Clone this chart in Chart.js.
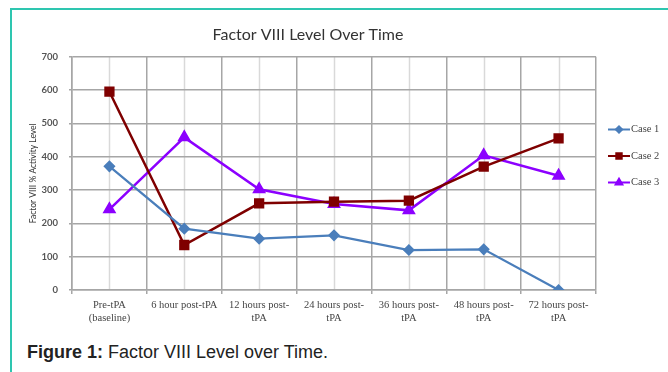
<!DOCTYPE html>
<html>
<head>
<meta charset="utf-8">
<script src="https://cdn.jsdelivr.net/npm/chart.js@4.4.1/dist/chart.umd.min.js"></script>
<style>
  body { margin: 0; width: 668px; height: 372px; overflow: hidden; background: #fff; position: relative; }
  .frame { position: absolute; left: 10px; top: 8px; right: 0; bottom: 0;
    border-top: 2px solid #2ec6b0; border-left: 2px solid #2ec6b0; }
  #myChart { position: absolute; left: 0; top: 0; }
  .caption { position: absolute; left: 27px; top: 342px; font-family: "Liberation Sans", Arial, sans-serif;
    font-size: 18px; color: #222; white-space: nowrap; }
  .caption b { font-weight: bold; }
</style>
</head>
<body>
<div class="frame"></div>
<canvas id="myChart" width="668" height="330"></canvas>
<div class="caption"><b>Figure 1:</b> Factor VIII Level over Time.</div>
<script>
const categories = [
  ["Pre-tPA", "(baseline)"],
  "6 hour post-tPA",
  ["12 hours post-", "tPA"],
  ["24 hours post-", "tPA"],
  ["36 hours post-", "tPA"],
  ["48 hours post-", "tPA"],
  ["72 hours post-", "tPA"],
];
const seriesNames = ["Case 1", "Case 2", "Case 3"];
const case1 = [371, 184, 154, 164, 120, 122, 0];
const case2 = [595, 135, 260, 265, 268, 370, 455];
const case3 = [242, 458, 302, 258, 239, 404, 343];
const yTicks = [0, 100, 200, 300, 400, 500, 600, 700];

const serifFont = "'Liberation Serif', 'DejaVu Serif', serif";

// lighter grid lines through each category centre
const centerLines = {
  id: "centerLines",
  beforeDraw(chart) {
    const { ctx, chartArea, scales } = chart;
    ctx.save();
    ctx.strokeStyle = "#d9d9d9";
    ctx.lineWidth = 1.5;
    categories.forEach((c, i) => {
      const x = Math.round(scales.x.getPixelForValue(i)) + 0.5;
      ctx.beginPath();
      ctx.moveTo(x, chartArea.top);
      ctx.lineTo(x, chartArea.bottom);
      ctx.stroke();
    });
    ctx.restore();
  },
};

// legend: line with marker, like the spreadsheet one
const lineLegend = {
  id: "lineLegend",
  afterDraw(chart) {
    const { ctx, chartArea } = chart;
    const x0 = chartArea.right + 12;
    chart.data.datasets.forEach((ds, i) => {
      const y = 129.5 + i * 26.5;
      ctx.save();
      ctx.strokeStyle = ds.borderColor;
      ctx.lineWidth = 2;
      ctx.beginPath();
      ctx.moveTo(x0, y);
      ctx.lineTo(x0 + 22, y);
      ctx.stroke();
      ctx.fillStyle = ds.pointBackgroundColor;
      ctx.strokeStyle = ds.pointBorderColor;
      Chart.helpers.drawPoint(ctx, {
        pointStyle: ds.pointStyle,
        radius: ds.pointRadius * 0.7,
        rotation: 0,
        borderWidth: 1,
      }, x0 + 11, y);
      ctx.fillStyle = "#444";
      ctx.font = "10.5px " + serifFont;
      ctx.textBaseline = "middle";
      ctx.textAlign = "left";
      ctx.fillText(ds.label, x0 + 23, y);
      ctx.restore();
    });
  },
};

const ctx = document.getElementById("myChart");
new Chart(ctx, {
  type: "line",
  data: {
    labels: categories,
    datasets: [
      {
        label: seriesNames[0],
        data: case1,
        borderColor: "#4a7ebb",
        borderWidth: 2.25,
        pointStyle: "rectRot",
        pointRadius: 4.5,
        pointBackgroundColor: "#4a7ebb",
        pointBorderColor: "#4a7ebb",
      },
      {
        label: seriesNames[1],
        data: case2,
        borderColor: "#7f0000",
        borderWidth: 2.5,
        pointStyle: "rect",
        pointRadius: 5.5,
        pointBackgroundColor: "#7f0000",
        pointBorderColor: "#7f0000",
      },
      {
        label: seriesNames[2],
        data: case3,
        borderColor: "#8c00ff",
        borderWidth: 2.5,
        pointStyle: "triangle",
        pointRadius: 5.5,
        pointBackgroundColor: "#8c00ff",
        pointBorderColor: "#8c00ff",
      },
    ],
  },
  options: {
    responsive: false,
    animation: false,
    devicePixelRatio: 1,
    layout: { padding: { left: 20, right: 72, top: 0, bottom: 0 } },
    plugins: {
      legend: { display: false },
      tooltip: { enabled: false },
      title: {
        display: true,
        text: "Factor VIII Level Over Time",
        color: "#333",
        font: { family: "Lato, 'Open Sans', sans-serif", size: 16, weight: "normal" },
        padding: { top: 25, bottom: 12.5 },
      },
    },
    scales: {
      x: {
        offset: true,
        grid: { offset: true, color: "#a6a6a6", lineWidth: 1.5, tickLength: 4 },
        border: { color: "#a6a6a6", width: 1.5 },
        ticks: {
          color: "#444",
          font: { family: serifFont, size: 10.5 },
          padding: 5,
          maxRotation: 0,
          autoSkip: false,
        },
        afterFit(scale) { scale.height = 40; },
      },
      y: {
        min: 0,
        max: 700,
        afterBuildTicks(scale) { scale.ticks = yTicks.map((v) => ({ value: v })); },
        grid: { color: "#a6a6a6", lineWidth: 1.5, tickLength: 3 },
        border: { color: "#a6a6a6", width: 1.5 },
        ticks: {
          color: "#555",
          font: { family: "Lato, sans-serif", size: 9.5, weight: "bold" },
          padding: 11,
        },
        title: {
          display: true,
          text: "Factor VIII % Activity Level",
          color: "#333",
          font: { family: "Lato, 'Open Sans', sans-serif", size: 8.5 },
          padding: { top: 8, bottom: 0 },
        },
        afterFit(scale) { scale.width = 52; },
      },
    },
  },
  plugins: [centerLines, lineLegend],
});
</script>
</body>
</html>
